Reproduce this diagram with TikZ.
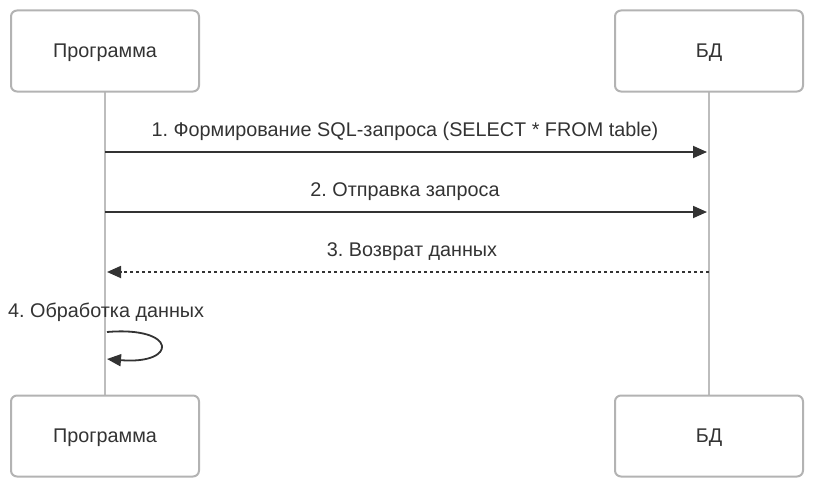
\documentclass[tikz,border=0pt]{standalone}
\usepackage{fontspec}
\setmainfont{Liberation Sans}
\usetikzlibrary{arrows.meta}
\definecolor{boxgray}{HTML}{B3B3B3}
\definecolor{linegray}{HTML}{BDBDBD}
\definecolor{arr}{HTML}{333333}
\frenchspacing
\begin{document}
\begin{tikzpicture}[x=1pt,y=-1pt,
  actor/.style={draw=boxgray,line width=2pt,rounded corners=6pt,fill=white,minimum width=188pt,minimum height=81pt,inner sep=0pt,text height=14pt,text depth=1.2pt,font=\fontsize{19.8}{24}\selectfont,text=arr},
  life/.style={draw=linegray,line width=2pt},
  msg/.style={draw=arr,line width=1.8pt,-{Triangle[length=14pt,width=12pt]}},
  ret/.style={draw=arr,line width=1.8pt,dash pattern=on 3pt off 3pt,-{Triangle[length=14pt,width=12pt]}},
  lbl/.style={font=\fontsize{19.8}{24}\selectfont,text=arr,inner sep=0pt,anchor=base}]
\useasboundingbox (0,0) rectangle (813,487);
\coordinate (pt) at (105,92);
\coordinate (pb) at (105,396);
\coordinate (dt) at (709,92);
\coordinate (db) at (709,396);
\draw[life] (pt) -- (pb);
\draw[life] (dt) -- (db);
\node[actor] (p1) at (105,51) {Программа};
\node[actor] (d1) at (709,51) {БД};
\node[actor] (p2) at (105,436) {Программа};
\node[actor] (d2) at (709,436) {БД};
\coordinate (a1s) at (105,152);
\coordinate (a1e) at (707,152);
\coordinate (a2s) at (105,212);
\coordinate (a2e) at (707,212);
\coordinate (a3s) at (709,272);
\coordinate (a3e) at (107,272);
\draw[msg] (a1s) -- (a1e);
\draw[msg] (a2s) -- (a2e);
\draw[ret] (a3s) -- (a3e);
\node[lbl] (l1) at (405,136) {1. Формирование SQL-запроса (SELECT * FROM table)};
\node[lbl] (l2) at (405,196) {2. Отправка запроса};
\node[lbl] (l3) at (412,256) {3. Возврат данных};
\node[lbl,anchor=base west] (l4) at (8,317) {4. Обработка данных};
\coordinate (s1) at (107,332);
\coordinate (s2) at (107,359);
\draw[msg] (s1) .. controls (178,326) and (178,365) .. (s2);
\end{tikzpicture}
\end{document}
